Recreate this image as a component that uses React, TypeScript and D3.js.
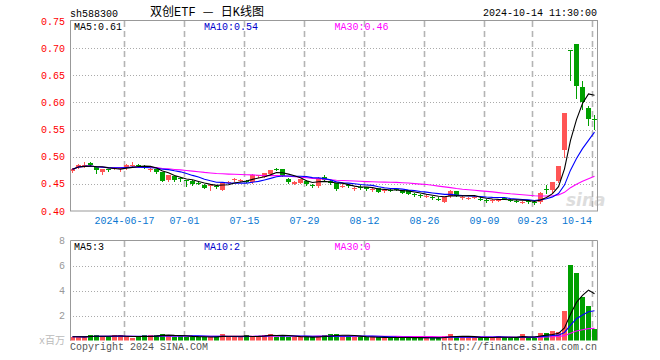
import * as React from "react";
import * as d3 from "d3";

// trading days shown (2024)
const dates = [
  "2024-06-03", "2024-06-04", "2024-06-05", "2024-06-06", "2024-06-07", "2024-06-11", "2024-06-12", "2024-06-13", "2024-06-14",
  "2024-06-17", "2024-06-18", "2024-06-19", "2024-06-20", "2024-06-21", "2024-06-24", "2024-06-25", "2024-06-26", "2024-06-27", "2024-06-28",
  "2024-07-01", "2024-07-02", "2024-07-03", "2024-07-04", "2024-07-05", "2024-07-08", "2024-07-09", "2024-07-10", "2024-07-11", "2024-07-12",
  "2024-07-15", "2024-07-16", "2024-07-17", "2024-07-18", "2024-07-19", "2024-07-22", "2024-07-23", "2024-07-24", "2024-07-25", "2024-07-26",
  "2024-07-29", "2024-07-30", "2024-07-31", "2024-08-01", "2024-08-02", "2024-08-05", "2024-08-06", "2024-08-07", "2024-08-08", "2024-08-09",
  "2024-08-12", "2024-08-13", "2024-08-14", "2024-08-15", "2024-08-16", "2024-08-19", "2024-08-20", "2024-08-21", "2024-08-22", "2024-08-23",
  "2024-08-26", "2024-08-27", "2024-08-28", "2024-08-29", "2024-08-30", "2024-09-02", "2024-09-03", "2024-09-04", "2024-09-05", "2024-09-06",
  "2024-09-09", "2024-09-10", "2024-09-11", "2024-09-12", "2024-09-13", "2024-09-18", "2024-09-19", "2024-09-20",
  "2024-09-23", "2024-09-24", "2024-09-25", "2024-09-26", "2024-09-27", "2024-09-30", "2024-10-08", "2024-10-09", "2024-10-10", "2024-10-11",
  "2024-10-14",
];

const opens = [
  0.473, 0.481, 0.4835, 0.489, 0.481, 0.472, 0.477, 0.478, 0.4775,
  0.479, 0.4835, 0.485, 0.4835, 0.4755, 0.477, 0.471, 0.457, 0.4646, 0.4605,
  0.457, 0.456, 0.4525, 0.4486, 0.4465, 0.4465, 0.439, 0.4525, 0.4575, 0.456,
  0.4555, 0.453, 0.464, 0.4634, 0.4683, 0.4775, 0.4776, 0.459, 0.4505, 0.452,
  0.456, 0.4485, 0.446, 0.463, 0.455, 0.451, 0.446, 0.448, 0.4425, 0.4445,
  0.4445, 0.44, 0.442, 0.436, 0.439, 0.441, 0.439, 0.438, 0.431, 0.4295,
  0.428, 0.426, 0.423, 0.4175, 0.427, 0.436, 0.4255, 0.424, 0.4255, 0.4225,
  0.4195, 0.419, 0.4205, 0.4245, 0.4205, 0.4185, 0.417, 0.418,
  0.4165, 0.417, 0.441, 0.439, 0.456, 0.513, 0.697, 0.707, 0.628, 0.59,
  0.569,
];
const highs = [
  0.479, 0.486, 0.49, 0.49, 0.482, 0.478, 0.478, 0.481, 0.48,
  0.486, 0.491, 0.486, 0.485, 0.479, 0.478, 0.471, 0.467, 0.465, 0.463,
  0.458, 0.457, 0.455, 0.449, 0.45, 0.448, 0.453, 0.456, 0.461, 0.459,
  0.457, 0.468, 0.467, 0.47, 0.476, 0.479, 0.478, 0.46, 0.455, 0.459,
  0.457, 0.45, 0.462, 0.467, 0.457, 0.452, 0.449, 0.45, 0.445, 0.447,
  0.445, 0.443, 0.443, 0.44, 0.441, 0.443, 0.4395, 0.4385, 0.433, 0.431,
  0.431, 0.428, 0.425, 0.426, 0.438, 0.4365, 0.428, 0.426, 0.427, 0.425,
  0.422, 0.422, 0.423, 0.426, 0.422, 0.42, 0.419, 0.42,
  0.418, 0.435, 0.447, 0.454, 0.483, 0.58, 0.697, 0.708, 0.64, 0.593,
  0.577,
];
const lows = [
  0.472, 0.48, 0.481, 0.484, 0.47, 0.469, 0.474, 0.477, 0.474,
  0.478, 0.482, 0.481, 0.479, 0.473, 0.47, 0.455, 0.456, 0.456, 0.456,
  0.446, 0.448, 0.449, 0.442, 0.438, 0.442, 0.438, 0.451, 0.455, 0.455,
  0.453, 0.452, 0.463, 0.463, 0.468, 0.475, 0.464, 0.452, 0.45, 0.451,
  0.448, 0.445, 0.445, 0.456, 0.45, 0.439, 0.444, 0.445, 0.439, 0.441,
  0.438, 0.437, 0.435, 0.435, 0.437, 0.438, 0.433, 0.431, 0.428, 0.426,
  0.426, 0.423, 0.42, 0.417, 0.426, 0.427, 0.423, 0.422, 0.424, 0.42,
  0.417, 0.417, 0.419, 0.422, 0.418, 0.416, 0.415, 0.415,
  0.4135, 0.414, 0.434, 0.434, 0.454, 0.5, 0.641, 0.609, 0.588, 0.559,
  0.551,
];
const closes = [
  0.477, 0.485, 0.4845, 0.4845, 0.476, 0.477, 0.475, 0.479, 0.4785,
  0.485, 0.4845, 0.4825, 0.4825, 0.4765, 0.471, 0.456, 0.4665, 0.4573, 0.4595,
  0.455, 0.449, 0.4515, 0.4425, 0.4475, 0.4455, 0.4523, 0.4535, 0.4585, 0.458,
  0.4545, 0.467, 0.466, 0.4696, 0.4757, 0.4765, 0.4646, 0.453, 0.454, 0.4585,
  0.449, 0.4475, 0.461, 0.457, 0.452, 0.44, 0.4465, 0.4475, 0.443, 0.444,
  0.44, 0.4405, 0.4355, 0.439, 0.4385, 0.4405, 0.434, 0.432, 0.4305, 0.429,
  0.4285, 0.4255, 0.4225, 0.4255, 0.4375, 0.428, 0.426, 0.4245, 0.426, 0.422,
  0.419, 0.4195, 0.421, 0.424, 0.42, 0.418, 0.4175, 0.4175,
  0.416, 0.433, 0.44, 0.453, 0.482, 0.58, 0.696, 0.631, 0.601, 0.57,
  0.568,
];
// volume, x 1,000,000
const volumes = [
  0.3, 0.3, 0.28, 0.42, 0.42, 0.28, 0.29, 0.42, 0.42,
  0.29, 0.2, 0.29, 0.42, 0.42, 0.42, 0.5, 0.38, 0.32, 0.4,
  0.28, 0.28, 0.26, 0.3, 0.26, 0.32, 0.52, 0.3, 0.28, 0.3,
  0.4, 0.3, 0.36, 0.45, 0.55, 0.32, 0.4, 0.28, 0.26, 0.28,
  0.28, 0.25, 0.34, 0.42, 0.5, 0.5, 0.36, 0.34, 0.3, 0.26,
  0.24, 0.24, 0.26, 0.24, 0.22, 0.24, 0.22, 0.26, 0.22, 0.2,
  0.2, 0.2, 0.22, 0.36, 0.5, 0.3, 0.26, 0.24, 0.24, 0.22,
  0.24, 0.24, 0.35, 0.24, 0.22, 0.22, 0.5, 0.24,
  0.22, 0.6, 0.58, 0.77, 0.7, 2.4, 6.05, 5.4, 3.5, 2.8,
  0.96,
];

const tickDates = ["2024-06-17", "2024-07-01", "2024-07-15", "2024-07-29", "2024-08-12", "2024-08-26", "2024-09-09", "2024-09-23", "2024-10-14"];
const tickLabels = ["2024-06-17", "07-01", "07-15", "07-29", "08-12", "08-26", "09-09", "09-23", "10-14"];
const priceTicks = [0.4, 0.45, 0.5, 0.55, 0.6, 0.65, 0.7, 0.75];
const volTicks = [2, 4, 6, 8];

const RED = "#ff5555";
const GREEN = "#00a000";
const FONT = "'Liberation Mono', 'DejaVu Sans Mono', monospace";
const CJK = "'Noto Sans CJK SC', sans-serif";

function movingAvg(vals, n) {
  return vals.map((_, i) => d3.mean(vals.slice(Math.max(0, i - n + 1), i + 1)));
}

function drawChart(svgRef) {
  const svg = d3.select(svgRef.current);
  svg.selectAll("*").remove();

  const width = 660;
  const height = 360;
  const left = 70;
  const right = 597.5;

  svg.attr("width", width).attr("height", height);
  svg.append("rect").attr("width", width).attr("height", height).attr("fill", "#fff");

  const x = d3
    .scaleBand()
    .domain(dates)
    .range([70, 598])
    .paddingInner(1 / 6)
    .paddingOuter(1 / 12)
    .align(0);
  const bw = x.bandwidth();
  const cx = (d) => x(d) + bw / 2;

  const y = d3.scaleLinear().domain([0.4, 0.75]).range([211, 21]);
  const yv = d3.scaleLinear().domain([0, 8]).range([340.5, 240.5]);

  const up = (i) =>
    closes[i] > opens[i] ? true : closes[i] < opens[i] ? false : i === 0 || closes[i] >= closes[i - 1];

  // header texts
  svg.append("text").attr("x", 70).attr("y", 16.5).attr("font-family", FONT).attr("font-size", 10)
    .attr("fill", "#000").text("sh588300");
  const title = svg.append("text").attr("x", 150).attr("y", 16).attr("font-family", FONT)
    .attr("font-size", 12).attr("fill", "#000");
  title.append("tspan").attr("font-family", CJK).text("双创");
  title.append("tspan").text("ETF ");
  title.append("tspan").attr("font-family", CJK).text("—");
  title.append("tspan").text(" ");
  title.append("tspan").attr("font-family", CJK).text("日");
  title.append("tspan").text("K");
  title.append("tspan").attr("font-family", CJK).text("线图");
  svg.append("text").attr("x", 597).attr("y", 16).attr("text-anchor", "end").attr("font-family", FONT)
    .attr("font-size", 10).attr("fill", "#000").text("2024-10-14 11:30:00");

  // sina watermark
  svg.append("text").attr("x", 566).attr("y", 206).attr("font-family", "'DejaVu Sans', sans-serif")
    .attr("font-size", 17).attr("font-style", "italic").attr("font-weight", "bold")
    .attr("fill", "#dddddd").text("sina");

  // ---- price panel
  const grid = svg.append("g").attr("fill", "none");
  grid.selectAll(".hgrid")
    .data(priceTicks.filter((t) => t > 0.4 && t < 0.75))
    .enter()
    .append("line")
    .attr("x1", left).attr("x2", right)
    .attr("y1", (d) => Math.round(y(d)) + 0.5).attr("y2", (d) => Math.round(y(d)) + 0.5)
    .attr("stroke", "#aaa").attr("stroke-dasharray", "1,2");
  grid.selectAll(".vgrid")
    .data(tickDates)
    .enter()
    .append("line")
    .attr("x1", (d) => x(d) + 0.5).attr("x2", (d) => x(d) + 0.5)
    .attr("y1", 21).attr("y2", 211)
    .attr("stroke", "#b4b4b4").attr("stroke-width", 1.6).attr("stroke-dasharray", "6,4");

  svg.append("g").selectAll("text")
    .data(priceTicks)
    .enter()
    .append("text")
    .attr("x", 65).attr("y", (d) => y(d) + 3.5).attr("text-anchor", "end")
    .attr("font-family", FONT).attr("font-size", 10).attr("fill", "#ff0000")
    .text((d) => d.toFixed(2));

  svg.append("g").selectAll("text")
    .data(tickDates)
    .enter()
    .append("text")
    .attr("x", (d, i) => (i === tickDates.length - 1 ? x(d) : x(d) + 0.5))
    .attr("y", 224)
    .attr("text-anchor", (d, i) => (i === tickDates.length - 1 ? "end" : "middle"))
    .attr("font-family", FONT).attr("font-size", 10).attr("fill", "#0a78d2")
    .text((d, i) => tickLabels[i]);

  // candles
  const candles = svg.append("g");
  dates.forEach((d, i) => {
    const color = up(i) ? RED : GREEN;
    const yHi = Math.round(y(highs[i]));
    const yLo = Math.round(y(lows[i]));
    const yTop = Math.round(y(Math.max(opens[i], closes[i])));
    const yBot = Math.round(y(Math.min(opens[i], closes[i])));
    candles.append("line")
      .attr("x1", x(d) + 2.5).attr("x2", x(d) + 2.5)
      .attr("y1", yHi).attr("y2", yLo + 1)
      .attr("stroke", color).attr("stroke-width", 1);
    candles.append("rect")
      .attr("x", x(d)).attr("y", yTop)
      .attr("width", bw).attr("height", Math.max(1, yBot - yTop))
      .attr("fill", color);
  });

  const ma5 = movingAvg(closes, 5);
  const ma10 = movingAvg(closes, 10);
  const ma30 = movingAvg(closes, 30);
  const priceLine = d3.line().x((_, i) => cx(dates[i])).y((v) => y(v));
  [
    [ma30, "#ff00ff"],
    [ma10, "#0000ff"],
    [ma5, "#000000"],
  ].forEach(([vals, c]) => {
    svg.append("path").attr("d", priceLine(vals)).attr("fill", "none")
      .attr("stroke", c).attr("stroke-width", 1.1);
  });

  svg.append("rect").attr("x", 70.5).attr("y", 20.5).attr("width", right - 70.5).attr("height", 190.5)
    .attr("fill", "none").attr("stroke", "#999");

  const maText = (xx, yy, label, c) =>
    svg.append("text").attr("x", xx).attr("y", yy).attr("font-family", FONT).attr("font-size", 10)
      .attr("fill", c).text(label);
  maText(74, 29.5, "MA5:0.61", "#000");
  maText(204, 29.5, "MA10:0.54", "#0000cc");
  maText(334.5, 29.5, "MA30:0.46", "#ff00ff");

  // ---- volume panel
  const vgrid = svg.append("g").attr("fill", "none");
  vgrid.selectAll(".hgrid")
    .data(volTicks.filter((t) => t < 8))
    .enter()
    .append("line")
    .attr("x1", left).attr("x2", right)
    .attr("y1", (d) => Math.round(yv(d)) + 0.5).attr("y2", (d) => Math.round(yv(d)) + 0.5)
    .attr("stroke", "#aaa").attr("stroke-dasharray", "1,2");
  vgrid.selectAll(".vgrid")
    .data(tickDates)
    .enter()
    .append("line")
    .attr("x1", (d) => x(d) + 0.5).attr("x2", (d) => x(d) + 0.5)
    .attr("y1", 241).attr("y2", 340)
    .attr("stroke", "#b4b4b4").attr("stroke-width", 1.6).attr("stroke-dasharray", "6,4");

  svg.append("g").selectAll("text")
    .data(volTicks)
    .enter()
    .append("text")
    .attr("x", 65).attr("y", (d) => yv(d) + 3.5).attr("text-anchor", "end")
    .attr("font-family", FONT).attr("font-size", 10).attr("fill", "#999")
    .text((d) => d);

  svg.append("g").selectAll("rect")
    .data(volumes)
    .enter()
    .append("rect")
    .attr("x", (v, i) => x(dates[i]))
    .attr("y", (v) => Math.round(yv(v)))
    .attr("width", bw)
    .attr("height", (v) => 340.5 - Math.round(yv(v)))
    .attr("fill", (v, i) => (up(i) ? RED : GREEN));

  const vma5 = movingAvg(volumes, 5);
  const vma10 = movingAvg(volumes, 10);
  const vma30 = movingAvg(volumes, 30);
  const volLine = d3.line().x((_, i) => cx(dates[i])).y((v) => yv(v));
  [
    [vma30, "#ff00ff"],
    [vma10, "#0000ff"],
    [vma5, "#000000"],
  ].forEach(([vals, c]) => {
    svg.append("path").attr("d", volLine(vals)).attr("fill", "none")
      .attr("stroke", c).attr("stroke-width", 1.1);
  });

  svg.append("path")
    .attr("d", `M70.5,340.5V240.5H${right}V340.5`)
    .attr("fill", "none").attr("stroke", "#999");

  maText(74, 249.5, "MA5:3", "#000");
  maText(204, 249.5, "MA10:2", "#0000cc");
  maText(334.5, 249.5, "MA30:0", "#ff00ff");

  const unit = svg.append("text").attr("x", 65).attr("y", 344).attr("text-anchor", "end")
    .attr("font-family", FONT).attr("font-size", 10).attr("fill", "#bbb");
  unit.append("tspan").text("x");
  unit.append("tspan").attr("font-family", CJK).text("百万");

  svg.append("text").attr("x", 70).attr("y", 349.5).attr("font-family", FONT).attr("font-size", 10)
    .attr("fill", "#555").text("Copyright 2024 SINA.COM");
  svg.append("text").attr("x", 597).attr("y", 349.5).attr("text-anchor", "end").attr("font-family", FONT)
    .attr("font-size", 10).attr("fill", "#555").text("http://finance.sina.com.cn");
}

const App = () => {
  const svg = React.useRef(null);
  React.useEffect(() => {
    drawChart(svg);
  }, [svg]);

  return <svg ref={svg} style={{ position: "absolute", left: 0, top: 0, display: "block" }} />;
};

export default App;
